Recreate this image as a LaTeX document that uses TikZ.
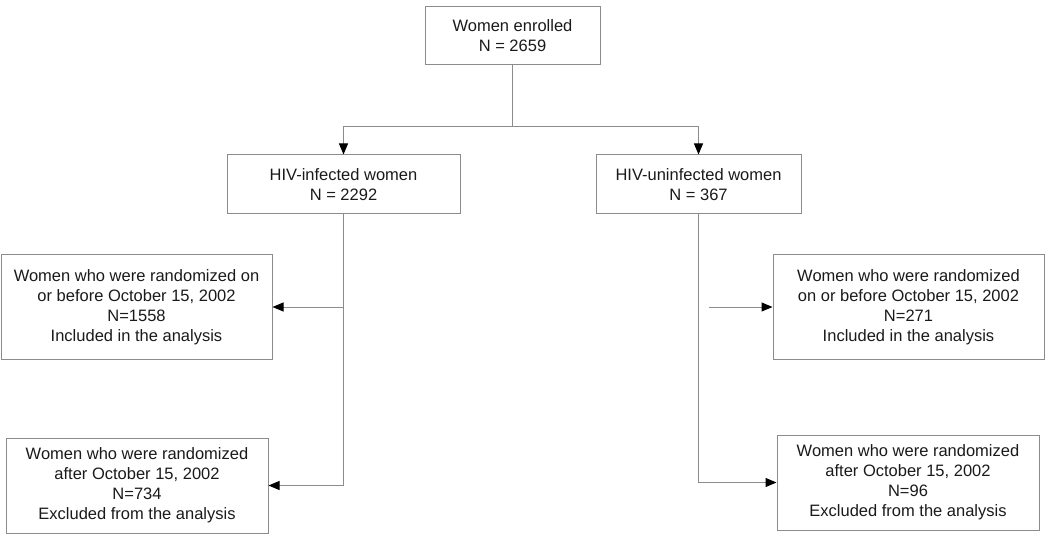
\documentclass[tikz,border=0pt]{standalone}
\usepackage{fontspec}
\setmainfont{Liberation Sans}
\usetikzlibrary{arrows.meta}
\definecolor{linegray}{HTML}{8C8C8C}
\definecolor{txt}{HTML}{1A1A1A}
\tikzset{
  box/.style={draw=linegray, line width=1pt, rectangle, align=center, text=txt,
    font=\fontsize{16.5}{20}\selectfont, inner sep=0pt},
  conn/.style={draw=linegray, line width=1pt},
  arr/.style={conn, -{Triangle[length=11pt,width=9pt,color=black]}}
}
\begin{document}
\begin{tikzpicture}[x=1pt,y=-1pt]
\useasboundingbox (0,0) rectangle (1050,540);
\node[box, minimum width=175pt, minimum height=58pt] (top) at (512.5,36) {Women enrolled\\N = 2659};
\node[box, minimum width=233pt, minimum height=59pt] (inf) at (343.5,184.5) {HIV-infected women\\N = 2292};
\node[box, minimum width=205pt, minimum height=59pt] (uninf) at (698.5,184.5) {HIV-uninfected women\\N = 367};
\node[box, minimum width=271pt, minimum height=104pt] (ml) at (136.5,307) {Women who were randomized on\\or before October 15, 2002\\N=1558\\Included in the analysis};
\node[box, minimum width=271pt, minimum height=104pt] (mr) at (908.5,307) {Women who were randomized\\ on or before October 15, 2002\\N=271\\Included in the analysis};
\node[box, minimum width=262pt, minimum height=95pt] (bl) at (137,485.5) {Women who were randomized\\after October 15, 2002\\N=734\\Excluded from the analysis};
\node[box, minimum width=262pt, minimum height=95pt] (br) at (908,482.5) {Women who were randomized\\after October 15, 2002\\N=96\\Excluded from the analysis};
\coordinate (j) at (512.5,127);
\coordinate (mrs) at (709,307);
\draw[conn] (top.south) -- (j);
\draw[arr] (j) -| (inf.north);
\draw[arr] (j) -| (uninf.north);
\draw[arr] (inf.south) |- (bl.east);
\draw[arr] (inf.south |- ml.east) -- (ml.east);
\draw[arr] (uninf.south) |- (br.west);
\draw[arr] (mrs) -- (mr.west);
\end{tikzpicture}
\end{document}
